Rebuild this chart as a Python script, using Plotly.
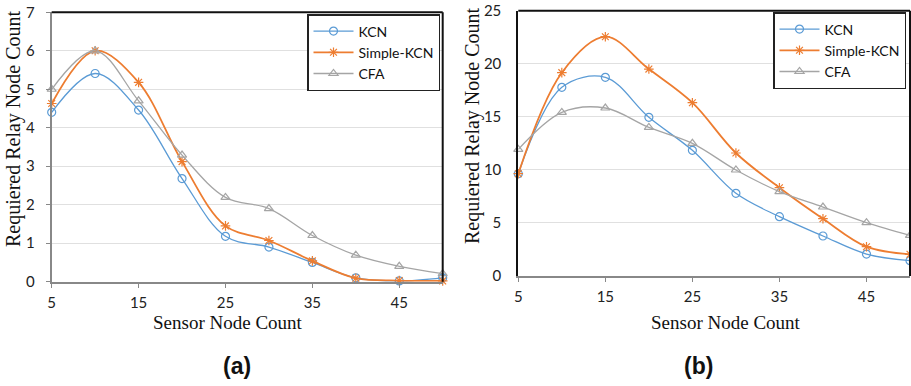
import plotly.graph_objects as go

x_vals = [5, 10, 15, 20, 25, 30, 35, 40, 45, 50]
x_ticks = [5, 15, 25, 35, 45]

# Chart (a)
a_kcn = [4.40, 5.41, 4.46, 2.68, 1.18, 0.90, 0.50, 0.10, 0.02, 0.10]
a_skcn = [4.63, 6.00, 5.18, 3.12, 1.45, 1.07, 0.54, 0.09, 0.03, 0.02]
a_cfa = [5.00, 6.00, 4.70, 3.29, 2.19, 1.90, 1.20, 0.69, 0.40, 0.21]

# Chart (b)
b_kcn = [9.64, 17.78, 18.72, 14.95, 11.84, 7.79, 5.59, 3.77, 2.07, 1.44]
b_skcn = [9.64, 19.16, 22.55, 19.50, 16.33, 11.59, 8.32, 5.40, 2.76, 2.04]
b_cfa = [11.93, 15.42, 15.83, 14.00, 12.50, 9.99, 7.95, 6.50, 5.03, 3.83]

names = ["KCN", "Simple-KCN", "CFA"]
colors = ["#5B9BD5", "#ED7D31", "#A5A5A5"]
symbols = ["circle-open", "asterisk-open", "triangle-up-open"]
widths = [1.3, 1.8, 1.3]

W, H = 911, 386
fig = go.Figure()

def add_series(xa, ya, data, legend):
    for name, ys, c, s, w in zip(names, data, colors, symbols, widths):
        fig.add_trace(go.Scatter(
            x=x_vals, y=ys, name=name, mode="lines+markers",
            line=dict(color=c, width=w, shape="spline", smoothing=1.0),
            marker=dict(symbol=s, size=8, color=c, line=dict(color=c, width=1.2)),
            xaxis=xa, yaxis=ya, legend=legend, cliponaxis=False))

add_series("x", "y", [a_kcn, a_skcn, a_cfa], "legend")
add_series("x2", "y2", [b_kcn, b_skcn, b_cfa], "legend2")

tick_font = dict(family="Lato, Open Sans, sans-serif", size=15, color="#222")

xa1 = [51.7 / W, 442.7 / W]
ya1 = [1 - 281.7 / H, 1 - 12.3 / H]
xa2 = [518.3 / W, 910.0 / W]
ya2 = [1 - 276.0 / H, 1 - 10.7 / H]

common_x = dict(range=[5, 50], tickvals=x_ticks, ticks="outside", ticklen=4,
                tickcolor="#888", showgrid=False, zeroline=False,
                showline=True, linecolor="#888", linewidth=2,
                tickfont=tick_font, ticklabelstandoff=2, automargin=False)

legend_font = dict(family="Lato, Open Sans, sans-serif", size=14, color="#111")

fig.update_layout(
    width=W, height=H, margin=dict(l=0, r=0, t=0, b=0, autoexpand=False),
    paper_bgcolor="white", plot_bgcolor="white",
    xaxis=dict(domain=xa1, anchor="y", **common_x),
    yaxis=dict(domain=ya1, anchor="x", range=[0, 7], dtick=1, ticks="outside",
               ticklen=4, tickcolor="#888", showgrid=True, gridcolor="#E0E0E0",
               gridwidth=1, zeroline=False, showline=True, linecolor="#888",
               linewidth=2, tickfont=tick_font, ticklabelstandoff=8,
               automargin=False),
    xaxis2=dict(domain=xa2, anchor="y2", **common_x),
    yaxis2=dict(domain=ya2, anchor="x2", range=[0, 25], dtick=5, ticks="",
                showgrid=True, gridcolor="#E0E0E0", gridwidth=1, zeroline=False,
                showline=True, linecolor="#111", linewidth=2, tickfont=tick_font,
                ticklabelstandoff=12, automargin=False),
    legend=dict(x=307 / W, y=1 - 14 / H, xanchor="left", yanchor="top",
                bgcolor="white", bordercolor="#222", borderwidth=1.5,
                font=legend_font, tracegroupgap=0, itemwidth=40),
    legend2=dict(x=773 / W, y=1 - 12 / H, xanchor="left", yanchor="top",
                 bgcolor="white", bordercolor="#222", borderwidth=1.5,
                 font=legend_font, tracegroupgap=0, itemwidth=40),
)

# black top and right frame lines
for xr, yr in [("x", "y"), ("x2", "y2")]:
    fig.add_shape(type="line", xref=f"{xr} domain", yref=f"{yr} domain",
                  x0=0, x1=1, y0=1, y1=1, line=dict(color="#111", width=2))
    fig.add_shape(type="line", xref=f"{xr} domain", yref=f"{yr} domain",
                  x0=1, x1=1, y0=0, y1=1, line=dict(color="#111", width=2))

def ann(text, x, y, angle=0, font=None):
    fig.add_annotation(text=text, x=x / W, y=1 - y / H, xref="paper", yref="paper",
                       showarrow=False, textangle=angle, font=font,
                       xanchor="center", yanchor="middle")

serif_y = dict(family="Liberation Serif, Times New Roman, serif", size=20, color="#111")
serif_x = dict(family="Liberation Serif, Times New Roman, serif", size=19, color="#111")
ann("Requiered Relay Node Count", 13, 129, -90, serif_y)
ann("Requiered Relay Node Count", 472, 126, -90, serif_y)
ann("Sensor Node Count", 228, 322, font=serif_x)
ann("Sensor Node Count", 726, 322, font=serif_x)
bold = dict(family="Liberation Sans, Arial, sans-serif", size=23, color="#111")
ann("<b>(a)</b>", 237, 366, font=bold)
ann("<b>(b)</b>", 698, 366, font=bold)

fig.write_html("out.html", config={"displayModeBar": False},
               post_script="document.body.style.margin='0';document.body.style.overflow='hidden';")
